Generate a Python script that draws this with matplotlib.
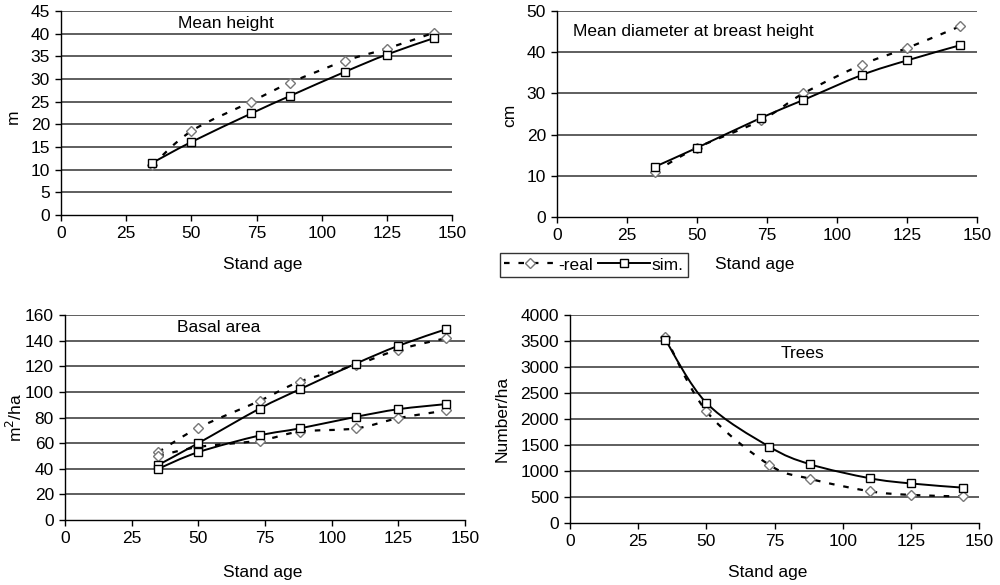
import matplotlib
matplotlib.use("Agg")
import matplotlib.pyplot as plt
from matplotlib.path import Path
from matplotlib.patches import PathPatch
from matplotlib.lines import Line2D
import numpy as np

plt.rcParams['font.family'] = ['Liberation Sans', 'DejaVu Sans']

# ---------------- data ----------------
age_h = [35, 50, 73, 88, 109, 125, 143]
height_real = [11.0, 18.5, 25.0, 29.2, 34.0, 36.7, 40.2]
height_sim = [11.5, 16.1, 22.4, 26.3, 31.6, 35.4, 39.0]

age_d = [35, 50, 73, 88, 109, 125, 144]
dbh_real = [11.0, 16.8, 23.5, 30.0, 37.0, 41.0, 46.3]
dbh_sim = [12.2, 16.8, 24.1, 28.4, 34.5, 38.0, 41.7]

age_b = [35, 50, 73, 88, 109, 125, 143]
basal_real_hi = [53, 72, 93, 108, 121, 133, 142]
basal_sim_hi = [43, 60, 87, 102, 122, 136, 149]
basal_real_lo = [50, 57, 62, 69, 71.5, 79.5, 85.5]
basal_sim_lo = [40, 53, 66, 71.5, 80.5, 86.5, 90.5]

age_t = [35, 50, 73, 88, 110, 125, 144]
trees_real = [3580, 2150, 1120, 850, 610, 540, 510]
trees_sim = [3520, 2310, 1470, 1130, 860, 760, 680]

x_ticks = [0, 25, 50, 75, 100, 125, 150]

REAL_LS = (0, (2.5, 4))
REAL_LW = 1.6
SIM_LW = 1.4
REAL_MS = 5.0
SIM_MS = 5.5


def smooth_path(x, y):
    """Excel-style smoothed line as cubic Bezier path through data points."""
    p = np.column_stack([x, y]).astype(float)
    n = len(p)
    verts = [p[0]]
    codes = [Path.MOVETO]
    for i in range(n - 1):
        p0 = p[i - 1] if i > 0 else p[i]
        p1 = p[i]
        p2 = p[i + 1]
        p3 = p[i + 2] if i + 2 < n else p[i + 1]
        c1 = p1 + (p2 - p0) / 6.0
        c2 = p2 - (p3 - p1) / 6.0
        verts += [c1, c2, p2]
        codes += [Path.CURVE4] * 3
    return Path(verts, codes)


def draw_series(ax, x, y, kind):
    if kind == 'real':
        patch = PathPatch(smooth_path(x, y), fill=False, edgecolor='black',
                          linewidth=REAL_LW, linestyle=REAL_LS, zorder=3,
                          transform=ax.transData)
        ax.add_patch(patch)
        ax.plot(x, y, linestyle='none', marker='D', markersize=REAL_MS,
                markerfacecolor='white', markeredgecolor='#777777',
                markeredgewidth=1.0, zorder=4)
    else:
        patch = PathPatch(smooth_path(x, y), fill=False, edgecolor='black',
                          linewidth=SIM_LW, linestyle='-', zorder=3,
                          transform=ax.transData)
        ax.add_patch(patch)
        ax.plot(x, y, linestyle='none', marker='s', markersize=SIM_MS,
                markerfacecolor='white', markeredgecolor='black',
                markeredgewidth=1.0, zorder=5)


def style_axes(ax, ymax, ystep, ylabel, xlabel_pos, ylabel_pos):
    ax.set_xlim(0, 150)
    ax.set_ylim(0, ymax)
    ax.set_xticks(x_ticks)
    yt = np.arange(0, ymax + ystep / 2, ystep)
    ax.set_yticks(yt)
    ax.spines['top'].set_visible(False)
    ax.spines['right'].set_visible(False)
    for s in ('left', 'bottom'):
        ax.spines[s].set_linewidth(1.0)
        ax.spines[s].set_color('black')
    ax.tick_params(direction='out', length=4, width=1.0, labelsize=12.5,
                   pad=4, colors='black')
    for v in yt[1:]:
        ax.axhline(v, color='#333333', linewidth=1.1, zorder=1)
    ax.set_xlabel('Stand age', fontsize=12.5)
    ax.set_ylabel(ylabel, fontsize=12.5)
    ax.xaxis.label.set_va('center')
    ax.yaxis.label.set_va('center')
    ax.xaxis.set_label_coords(*xlabel_pos)
    ax.yaxis.set_label_coords(*ylabel_pos)


fig = plt.figure(figsize=(10, 5.85), dpi=100)

ax1 = fig.add_axes([0.061, 0.6325, 0.391, 0.3487])
ax2 = fig.add_axes([0.557, 0.6291, 0.420, 0.3521])
ax3 = fig.add_axes([0.065, 0.1111, 0.400, 0.3504])
ax4 = fig.add_axes([0.570, 0.1060, 0.409, 0.3556])

# Mean height
style_axes(ax1, 45, 5, 'm', (0.517, -0.245), (-0.123, 0.48))
draw_series(ax1, age_h, height_real, 'real')
draw_series(ax1, age_h, height_sim, 'sim')
ax1.text(0.30, 0.94, 'Mean height', transform=ax1.transAxes,
         fontsize=12.5, va='center', ha='left')

# Mean diameter
style_axes(ax2, 50, 10, 'cm', (0.47, -0.23), (-0.112, 0.495))
draw_series(ax2, age_d, dbh_real, 'real')
draw_series(ax2, age_d, dbh_sim, 'sim')
ax2.text(0.038, 0.90, 'Mean diameter at breast height', transform=ax2.transAxes,
         fontsize=12.5, va='center', ha='left')

# Basal area
style_axes(ax3, 160, 20, 'm$^2$/ha', (0.495, -0.258), (-0.125, 0.5))
draw_series(ax3, age_b, basal_real_hi, 'real')
draw_series(ax3, age_b, basal_real_lo, 'real')
draw_series(ax3, age_b, basal_sim_hi, 'sim')
draw_series(ax3, age_b, basal_sim_lo, 'sim')
ax3.text(0.28, 0.937, 'Basal area', transform=ax3.transAxes,
         fontsize=12.5, va='center', ha='left')

# Trees
style_axes(ax4, 4000, 500, 'Number/ha', (0.484, -0.24), (-0.165, 0.5))
draw_series(ax4, age_t, trees_real, 'real')
draw_series(ax4, age_t, trees_sim, 'sim')
ax4.text(0.516, 0.817, 'Trees', transform=ax4.transAxes,
         fontsize=12.5, va='center', ha='left')

# Legend
h_real = Line2D([], [], color='black', linewidth=REAL_LW, linestyle=REAL_LS,
                marker='D', markersize=REAL_MS, markerfacecolor='white',
                markeredgecolor='#777777')
h_sim = Line2D([], [], color='black', linewidth=SIM_LW, linestyle='-',
               marker='s', markersize=SIM_MS, markerfacecolor='white',
               markeredgecolor='black')
leg = fig.legend([h_real, h_sim], ['-real', 'sim.'], loc='center',
                 bbox_to_anchor=(0.594, 1 - 265 / 585), ncol=2,
                 fontsize=12.5, frameon=True, fancybox=False,
                 edgecolor='black', handlelength=3.0, handletextpad=0.1,
                 columnspacing=0.3, borderpad=0.25, borderaxespad=0)
leg.get_frame().set_linewidth(1.0)

fig.savefig('out.png', dpi=100, facecolor='white')
